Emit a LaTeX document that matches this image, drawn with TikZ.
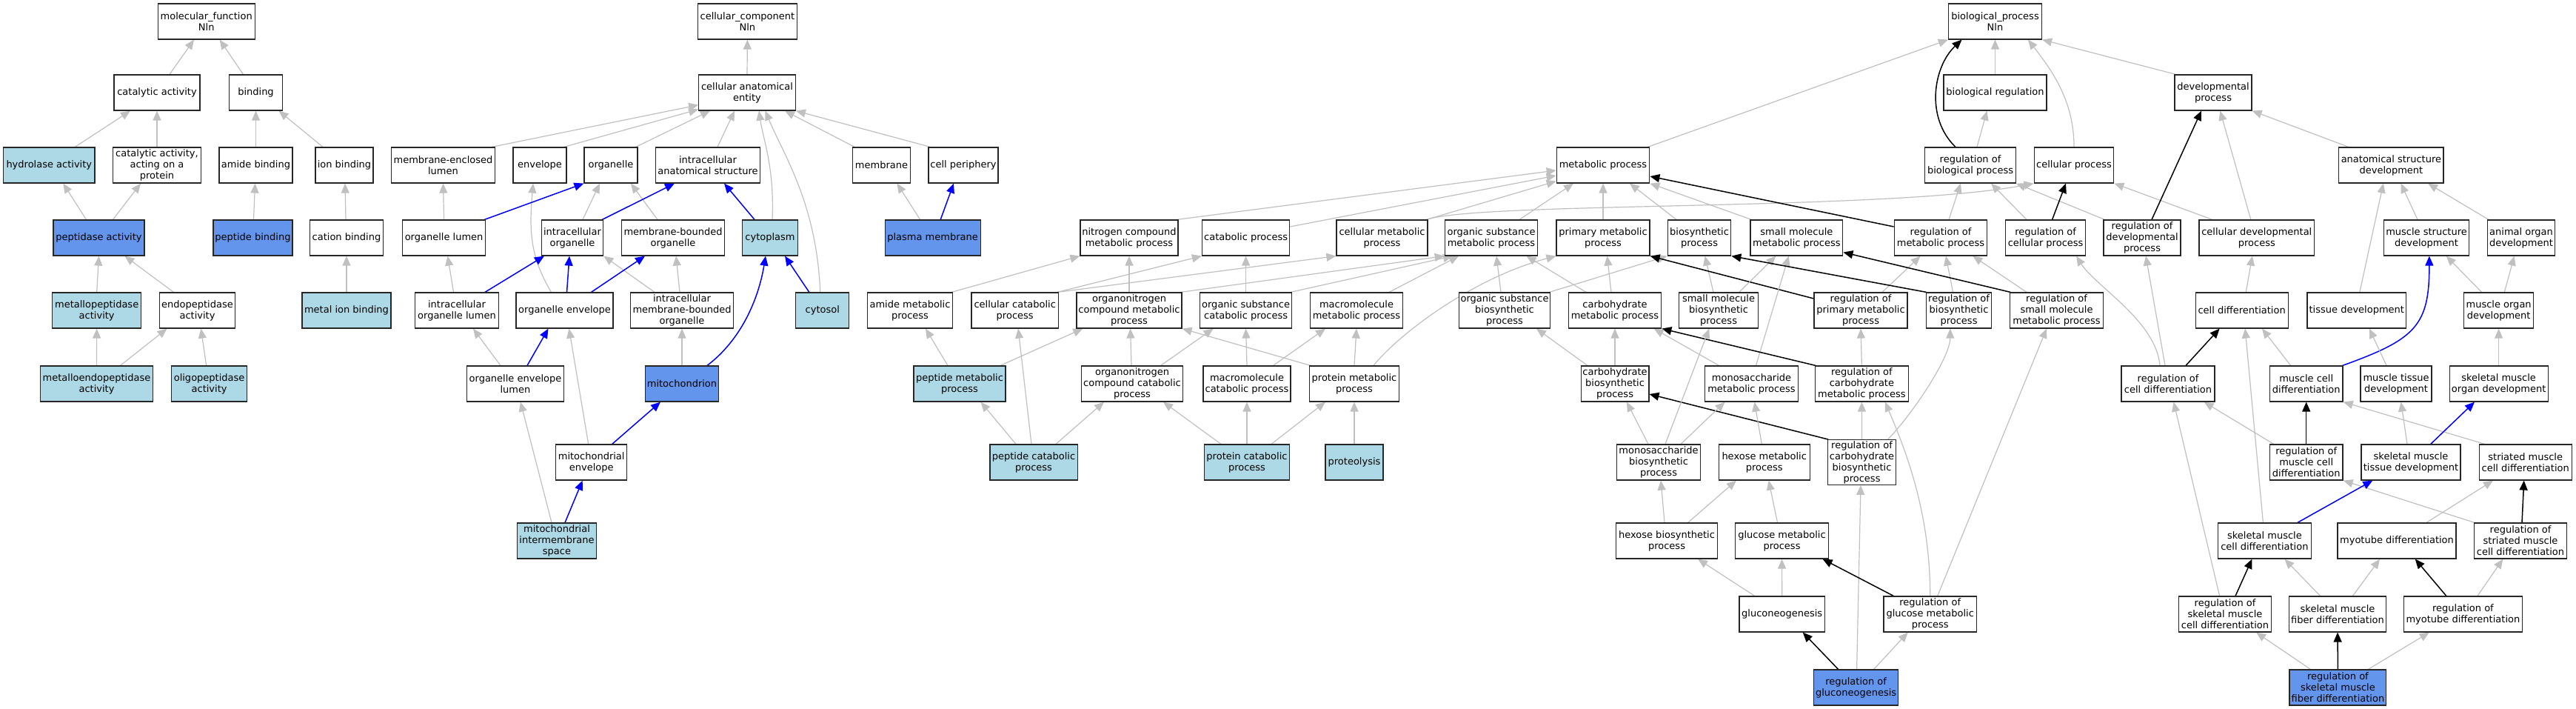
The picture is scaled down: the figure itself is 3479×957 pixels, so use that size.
\documentclass[tikz,border=0pt]{standalone}
\usepackage{fontspec}
\setmainfont{DejaVu Sans}
\usetikzlibrary{arrows.meta}
\definecolor{lb}{HTML}{ADD8E6}
\definecolor{cb}{HTML}{6495ED}
\definecolor{eg}{HTML}{C0C0C0}
\definecolor{eb}{HTML}{0000FF}
\pgfdeclarelayer{bgl}
\pgfdeclarelayer{edges}
\pgfsetlayers{bgl,edges,main}
\newcommand{\dE}[5]{\draw[#1] ([xshift=#3pt]#2.north) -- ([xshift=#5pt]#4.south);}
\tikzset{
  bx/.style={draw=black!85, line width=1.2pt, fill=white, rectangle, align=center,
    inner xsep=1pt, inner ysep=1.5pt, minimum height=48pt,
    font=\fontsize{13}{15}\selectfont},
  lbx/.style={bx, fill=lb},
  cbx/.style={bx, fill=cb},
  ge/.style={draw=eg, line width=1.2pt, -{Triangle[length=13pt,width=11pt,fill=eg]}},
  be/.style={draw=eb, line width=1.5pt, -{Triangle[length=13pt,width=11pt,fill=eb]}},
  ke/.style={draw=black, line width=1.5pt, -{Triangle[length=13pt,width=11pt,fill=black]}}
}
\begin{document}
\begin{tikzpicture}[x=1pt,y=-1pt]
\useasboundingbox (0,0) rectangle (3479,957);
\begin{pgfonlayer}{bgl}
\fill[white] (0,0) rectangle (3479,957);
\end{pgfonlayer}
% ---------- molecular function ----------
\node[bx, minimum width=131pt] (mf) at (278.7,29) {molecular\_function\\Nln};
\node[bx, minimum width=116pt] (cat) at (212,125) {catalytic activity};
\node[bx, minimum width=72pt] (bind) at (345.5,125) {binding};
\node[lbx, minimum width=123.5pt] (hyd) at (66.3,223) {hydrolase activity};
\node[bx, minimum width=118.5pt] (catp) at (212,223) {catalytic activity,\\acting on a\\protein};
\node[bx, minimum width=99pt] (amb) at (345.5,223) {amide binding};
\node[bx, minimum width=78pt] (ionb) at (465,223) {ion binding};
\node[cbx, minimum width=123pt] (pept) at (133.5,321) {peptidase activity};
\node[cbx, minimum width=107pt] (pepb) at (341.5,321) {peptide binding};
\node[bx, minimum width=98.7pt] (catb) at (468,321) {cation binding};
\node[lbx, minimum width=120pt] (metp) at (130.7,419) {metallopeptidase\\activity};
\node[bx, minimum width=102pt] (endo) at (266.5,419) {endopeptidase\\activity};
\node[lbx, minimum width=120pt] (mib) at (468,419) {metal ion binding};
\node[lbx, minimum width=152.4pt] (mep) at (130.5,518) {metalloendopeptidase\\activity};
\node[lbx, minimum width=102.2pt] (olig) at (282.6,518) {oligopeptidase\\activity};
% ---------- cellular component ----------
\node[bx, minimum width=134pt] (cc) at (1009.4,29) {cellular\_component\\Nln};
\node[bx, minimum width=130.5pt] (cae) at (1009,125) {cellular anatomical\\entity};
\node[bx, minimum width=140pt] (mel) at (598.5,223) {membrane-enclosed\\lumen};
\node[bx, minimum width=72pt] (env) at (729,223) {envelope};
\node[bx, minimum width=72pt] (org) at (825,223) {organelle};
\node[bx, minimum width=141.6pt] (ias) at (956,223) {intracellular\\anatomical structure};
\node[bx, minimum width=77.5pt] (mem) at (1190.5,223) {membrane};
\node[bx, minimum width=94pt] (cper) at (1301,223) {cell periphery};
\node[bx, minimum width=112.4pt] (ol) at (599.6,321) {organelle lumen};
\node[bx, minimum width=83.5pt] (io) at (773,321) {intracellular\\organelle};
\node[bx, minimum width=138.5pt] (mbo) at (909,321) {membrane-bounded\\organelle};
\node[lbx, minimum width=74.5pt] (cyto) at (1040,321) {cytoplasm};
\node[cbx, minimum width=129pt] (pm) at (1259.6,321) {plasma membrane};
\node[bx, minimum width=112.4pt] (iol) at (617,419) {intracellular\\organelle lumen};
\node[bx, minimum width=131pt] (oe) at (762.5,419) {organelle envelope};
\node[bx, minimum width=139pt] (imbo) at (921,419) {intracellular\\membrane-bounded\\organelle};
\node[lbx, minimum width=72pt] (cytosol) at (1110.8,419) {cytosol};
\node[bx, minimum width=131pt] (oel) at (696,518) {organelle envelope\\lumen};
\node[cbx, minimum width=99pt] (mito) at (921,518) {mitochondrion};
\node[bx, minimum width=96pt] (menv) at (798.7,624) {mitochondrial\\envelope};
\node[lbx, minimum width=107pt] (mis) at (752,730) {mitochondrial\\intermembrane\\space};
% ---------- biological process ----------
\node[bx, minimum width=126pt] (bp) at (2694.5,29) {biological\_process\\Nln};
\node[bx, minimum width=139pt] (breg) at (2694.5,125) {biological regulation};
\node[bx, minimum width=104pt] (dev) at (2989,125) {developmental\\process};
\node[bx, minimum width=125.6pt] (mp) at (2165,223) {metabolic process};
\node[bx, minimum width=122.5pt] (rbio) at (2661,223) {regulation of\\biological process};
\node[bx, minimum width=107.5pt] (cp) at (2801,223) {cellular process};
\node[bx, minimum width=141.2pt] (asd) at (3229.4,223) {anatomical structure\\development};
\node[bx, minimum width=132pt] (ncmp) at (1525,321) {nitrogen compound\\metabolic process};
\node[bx, minimum width=118.2pt] (catab) at (1682.6,321) {catabolic process};
\node[bx, minimum width=123pt] (cmp) at (1866.5,321) {cellular metabolic\\process};
\node[bx, minimum width=125.5pt] (osmp) at (2014,321) {organic substance\\metabolic process};
\node[bx, minimum width=126pt] (pmp) at (2165,321) {primary metabolic\\process};
\node[bx, minimum width=85.5pt] (bsp) at (2295,321) {biosynthetic\\process};
\node[bx, minimum width=124.8pt] (smmp) at (2426.4,321) {small molecule\\metabolic process};
\node[bx, minimum width=125.6pt] (rmp) at (2621,321) {regulation of\\metabolic process};
\node[bx, minimum width=107.6pt] (rcp) at (2762.6,321) {regulation of\\cellular process};
\node[bx, minimum width=104pt] (rdp) at (2893,321) {regulation of\\developmental\\process};
\node[bx, minimum width=155.5pt] (cdp) at (3047.8,321) {cellular developmental\\process};
\node[bx, minimum width=114.5pt] (msd) at (3277,321) {muscle structure\\development};
\node[bx, minimum width=91pt] (aod) at (3405,321) {animal organ\\development};
\node[bx, minimum width=115.5pt] (amp) at (1229,419) {amide metabolic\\process};
\node[bx, minimum width=117.5pt] (ccp) at (1370.7,419) {cellular catabolic\\process};
\node[bx, minimum width=142pt] (oncmp) at (1525,419) {organonitrogen\\compound metabolic\\process};
\node[bx, minimum width=123.6pt] (oscp) at (1682.6,419) {organic substance\\catabolic process};
\node[bx, minimum width=125.6pt] (macmp) at (1832,419) {macromolecule\\metabolic process};
\node[bx, minimum width=123.6pt] (osbp) at (2032,419) {organic substance\\biosynthetic\\process};
\node[bx, minimum width=125.5pt] (carbmp) at (2181,419) {carbohydrate\\metabolic process};
\node[bx, minimum width=106.6pt] (smbp) at (2321,419) {small molecule\\biosynthetic\\process};
\node[bx, minimum width=126pt] (rpmp) at (2513,419) {regulation of\\primary metabolic\\process};
\node[bx, minimum width=88.7pt] (rbp) at (2645.5,419) {regulation of\\biosynthetic\\process};
\node[bx, minimum width=125.4pt] (rsmmp) at (2777.5,419) {regulation of\\small molecule\\metabolic process};
\node[bx, minimum width=125pt] (celld) at (3027.6,419) {cell differentiation};
\node[bx, minimum width=133.5pt] (tisd) at (3182.8,419) {tissue development};
\node[bx, minimum width=94.2pt] (mod) at (3374.6,419) {muscle organ\\development};
\node[lbx, minimum width=124pt] (pepmp) at (1296,518) {peptide metabolic\\process};
\node[bx, minimum width=136.4pt] (onccp) at (1529,518) {organonitrogen\\compound catabolic\\process};
\node[bx, minimum width=118pt] (maccp) at (1684,518) {macromolecule\\catabolic process};
\node[bx, minimum width=121pt] (protmp) at (1829,518) {protein metabolic\\process};
\node[bx, minimum width=91.8pt] (carbbp) at (2181,518) {carbohydrate\\biosynthetic\\process};
\node[bx, minimum width=125.7pt] (monomp) at (2365.5,518) {monosaccharide\\metabolic process};
\node[bx, minimum width=125.5pt] (rcmp) at (2514.4,518) {regulation of\\carbohydrate\\metabolic process};
\node[bx, minimum width=126pt] (rcd) at (2928,518) {regulation of\\cell differentiation};
\node[bx, minimum width=98.7pt] (mcd) at (3114.7,518) {muscle cell\\differentiation};
\node[bx, minimum width=96pt] (mtd) at (3236,518) {muscle tissue\\development};
\node[bx, minimum width=133pt] (smod) at (3374.6,518) {skeletal muscle\\organ development};
\node[lbx, minimum width=118.2pt] (pepcp) at (1396,624) {peptide catabolic\\process};
\node[lbx, minimum width=114.8pt] (protcp) at (1684,624) {protein catabolic\\process};
\node[lbx, minimum width=78pt] (proteol) at (1829,624) {proteolysis};
\node[bx, minimum width=112.4pt] (monobp) at (2240,624) {monosaccharide\\biosynthetic\\process};
\node[bx, minimum width=123pt] (hexmp) at (2382.7,624) {hexose metabolic\\process};
\node[bx, minimum width=91.5pt] (rcbp) at (2514.5,624) {regulation of\\carbohydrate\\biosynthetic\\process};
\node[bx, minimum width=98.7pt] (rmcd) at (3114.7,624) {regulation of\\muscle cell\\differentiation};
\node[bx, minimum width=134pt] (smtd) at (3256,624) {skeletal muscle\\tissue development};
\node[bx, minimum width=125pt] (stmcd) at (3410.7,624) {striated muscle\\cell differentiation};
\node[bx, minimum width=137pt] (hexbp) at (2251,730) {hexose biosynthetic\\process};
\node[bx, minimum width=125.3pt] (glcmp) at (2406.5,730) {glucose metabolic\\process};
\node[bx, minimum width=125.4pt] (skmcd) at (3058.4,730) {skeletal muscle\\cell differentiation};
\node[bx, minimum width=160pt] (myod) at (3237,730) {myotube differentiation};
\node[bx, minimum width=125pt] (rstmcd) at (3404,730) {regulation of\\striated muscle\\cell differentiation};
\node[bx, minimum width=115.3pt] (gng) at (2406.7,829) {gluconeogenesis};
\node[bx, minimum width=125.4pt] (rgmp) at (2606.7,829) {regulation of\\glucose metabolic\\process};
\node[bx, minimum width=125.5pt] (rskmcd) at (3005,829) {regulation of\\skeletal muscle\\cell differentiation};
\node[bx, minimum width=130.3pt] (smfd) at (3157,829) {skeletal muscle\\fiber differentiation};
\node[bx, minimum width=160pt] (rmyod) at (3326.4,829) {regulation of\\myotube differentiation};
\node[cbx, minimum width=114.4pt] (rgng) at (2506.6,928) {regulation of\\gluconeogenesis};
\node[cbx, minimum width=130.7pt] (rsmfd) at (3157.4,928) {regulation of\\skeletal muscle\\fiber differentiation};

\begin{pgfonlayer}{edges}
% MF
\dE{ge}{cat}{17}{mf}{-16.7}
\dE{ge}{bind}{-17}{mf}{18}
\dE{ge}{hyd}{35}{cat}{-36}
\dE{ge}{catp}{0}{cat}{0}
\dE{ge}{amb}{0}{bind}{0}
\dE{ge}{ionb}{-29}{bind}{31}
\dE{ge}{pept}{-17}{hyd}{19}
\dE{ge}{pept}{19}{catp}{-22}
\dE{ge}{pepb}{1}{amb}{-1}
\dE{ge}{catb}{-1}{ionb}{1}
\dE{ge}{metp}{0}{pept}{0}
\dE{ge}{endo}{-32}{pept}{35}
\dE{ge}{mib}{0}{catb}{0}
\dE{ge}{mep}{0}{metp}{0}
\dE{ge}{mep}{32}{endo}{-41}
\dE{ge}{olig}{-4}{endo}{5}
% CC gray
\dE{ge}{cae}{0}{cc}{0}
\draw[ge] ([xshift=-5pt]mel.north east) -- ([yshift=-16.7pt]cae.west);
\draw[ge] ([xshift=-4pt]env.north east) -- ([yshift=2pt]cae.south west);
\draw[ge] ([xshift=-3pt]org.north east) -- ([xshift=-50pt]cae.south);
\dE{ge}{ias}{13}{cae}{-17}
\draw[ge] ([xshift=3pt]cyto.north) .. controls +(3,-70) and +(6,40) .. ([xshift=16pt]cae.south);
\draw[ge] ([xshift=-3pt]cytosol.north) .. controls +(-5,-120) and +(25,60) .. ([xshift=24.5pt]cae.south);
\draw[ge] ([xshift=3pt]mem.north west) -- ([xshift=51pt]cae.south);
\draw[ge] ([xshift=3pt]cper.north west) -- (cae.south east);
\dE{ge}{ol}{0}{mel}{0}
\dE{ge}{io}{14}{org}{-15}
\dE{ge}{mbo}{-21}{org}{27}
\dE{ge}{iol}{-4.5}{ol}{5}
\draw[ge] ([xshift=-18pt]oe.north) .. controls +(-30,-50) and +(-5,60) .. ([xshift=-9pt]env.south);
\draw[ge] ([xshift=-37pt]imbo.north) -- (io.south east);
\dE{ge}{imbo}{-3}{mbo}{4}
\dE{ge}{oel}{-20}{iol}{22}
\dE{ge}{mito}{0}{imbo}{0}
\dE{ge}{menv}{-4}{oe}{6}
\dE{ge}{mis}{-7}{oel}{7}
\dE{ge}{pm}{-17}{mem}{21}
% CC blue
\draw[be] ([xshift=-2pt]ol.north east) -- (org.south west);
\draw[be] ([xshift=-2pt]io.north east) -- ([xshift=-45pt]ias.south);
\dE{be}{cyto}{-21}{ias}{22}
\dE{be}{iol}{38}{io}{-38}
\dE{be}{oe}{3}{io}{-4}
\dE{be}{oe}{36}{mbo}{-38}
\dE{be}{cytosol}{-18}{cyto}{20}
\draw[be] ([xshift=34pt]mito.north) .. controls +(45,-34) and +(-10,60) .. ([xshift=-6pt]cyto.south);
\dE{be}{oel}{16}{oe}{-22}
\dE{be}{menv}{28}{mito}{-29}
\dE{be}{mis}{11}{menv}{-12}
\dE{be}{pm}{10.6}{cper}{-13}
% BP upper
\draw[ge] ([xshift=-3pt]mp.north east) -- (bp.south west);
\dE{ge}{breg}{0}{bp}{0}
\draw[ke] ([xshift=-20pt]rbio.north) .. controls +(-40.7,-39) and +(-39,37) .. ([xshift=-45pt]bp.south);
\draw[ge] (cp.north) .. controls +(0,-60) and +(35,45) .. ([xshift=44.5pt]bp.south);
\draw[ge] ([xshift=2pt]dev.north west) -- (bp.south east);
\dE{ge}{rbio}{9}{breg}{-11}
\draw[ge] ([xshift=-2pt]cmp.north east) .. controls (2000,272) and (2550,285) .. (cp.south west);
\draw[ge] ([xshift=-2pt]ncmp.north east) -- ([yshift=-7pt]mp.west);
\draw[ge] ([yshift=15pt]catab.east) -- ([yshift=-14pt]mp.west);
\draw[ge] ([xshift=-2pt]cmp.north east) -- ([yshift=3pt]mp.south west);
\dE{ge}{osmp}{38}{mp}{-40}
\dE{ge}{pmp}{0}{mp}{0}
\dE{ge}{bsp}{-31}{mp}{36}
\draw[ge] ([xshift=2pt]smmp.north west) -- (mp.south east);
\draw[ke] ([yshift=15pt]rmp.west) -- ([yshift=-15pt]mp.east);
\dE{ge}{rmp}{11}{rbio}{-13}
\dE{ge}{rcp}{-25.6}{rbio}{28}
\draw[ge] ([xshift=2pt]rdp.north west) -- (rbio.south east);
\dE{ke}{rcp}{9}{cp}{-11}
\draw[ge] ([xshift=-60pt]cdp.north) -- (cp.south east);
\dE{ke}{rdp}{13}{dev}{-16}
\dE{ge}{cdp}{-8}{dev}{9.4}
\draw[ge] ([xshift=-57.6pt]asd.north) -- (dev.south east);
\dE{ge}{tisd}{4}{asd}{-10.6}
\dE{ge}{msd}{-12}{asd}{13}
\draw[ge] ([xshift=2pt]aod.north west) -- ([xshift=49.6pt]asd.south);
\dE{ge}{celld}{5.6}{cdp}{-6}
\dE{ge}{mod}{-23}{msd}{26.8}
\dE{ge}{mod}{7.7}{aod}{-9.4}
\draw[be] ([xshift=-1pt]mcd.north east) .. controls (3262,458) and (3281,440) .. ([xshift=3.8pt]msd.south);
\dE{ke}{rcd}{24}{celld}{-30}
\dE{ge}{skmcd}{-2}{celld}{4.5}
\dE{ge}{mcd}{-21}{celld}{27.4}
\dE{ge}{mtd}{-13}{tisd}{17}
\dE{ge}{smod}{0}{mod}{0}
\dE{ge}{rcd}{-4}{rdp}{5}
\draw[ge] ([xshift=-11pt]rcd.north) .. controls +(-5,-60) and +(25,40) .. ([xshift=41.5pt]rcp.south);
\dE{ge}{rskmcd}{-7.4}{rcd}{7.6}
\dE{ge}{rmcd}{-44}{rcd}{48.6}
\dE{ke}{rmcd}{0}{mcd}{0}
\draw[ge] ([xshift=-55pt]stmcd.north) -- (mcd.south east);
\dE{ge}{smtd}{-5}{mtd}{6.6}
\dE{be}{smtd}{26.7}{smod}{-32.6}
\draw[ge] ([xshift=1pt]rstmcd.north west) -- (rmcd.south east);
\dE{be}{skmcd}{44.5}{smtd}{-51.7}
\dE{ge}{myod}{40}{stmcd}{-43.7}
\dE{ke}{rstmcd}{2}{stmcd}{-2}
\dE{ke}{rskmcd}{14}{skmcd}{-17}
\dE{ge}{smfd}{-23.5}{skmcd}{27}
\dE{ge}{smfd}{20.5}{myod}{-23}
\dE{ke}{rmyod}{-22.6}{myod}{24.7}
\dE{ge}{rmyod}{19.5}{rstmcd}{-23.7}
\dE{ge}{rsmfd}{-37}{rskmcd}{42}
\dE{ke}{rsmfd}{0}{smfd}{0}
\dE{ge}{rsmfd}{41}{rmyod}{-45.6}
% metabolic block
\draw[ge] ([xshift=-2pt]amp.north east) -- (ncmp.south west);
\draw[ge] ([xshift=-2pt]ccp.north east) -- (catab.south west);
\draw[ge] ([xshift=-2pt]ccp.north east) -- (cmp.south west);
\dE{ge}{oncmp}{0}{ncmp}{0}
\draw[ge] ([xshift=-2pt]oncmp.north east) -- (osmp.south west);
\dE{ge}{oscp}{0}{catab}{0}
\draw[ge] ([xshift=-2pt]oscp.north east) -- ([xshift=-52pt]osmp.south);
\dE{ge}{macmp}{44}{osmp}{-44}
\dE{ge}{osbp}{-5}{osmp}{7}
\draw[ge] ([xshift=-2pt]osbp.north east) -- (bsp.south west);
\dE{ge}{carbmp}{-39}{osmp}{47.5}
\dE{ge}{carbmp}{-5}{pmp}{5.5}
\dE{ge}{smbp}{-7}{bsp}{7.6}
\draw[ke] ([yshift=16pt]rpmp.west) -- (pmp.south east);
\dE{ge}{smbp}{27.7}{smmp}{-28}
\dE{ge}{monomp}{6}{smmp}{-10.7}
\dE{ge}{rpmp}{29}{rmp}{-27.4}
\dE{ge}{rbp}{-8}{rmp}{7}
\dE{ge}{rsmmp}{-40.5}{rmp}{43.4}
\draw[ke] ([xshift=1pt]rbp.north west) -- (bsp.south east);
\draw[ke] ([xshift=1pt]rsmmp.north west) -- ([yshift=5pt]smmp.south east);
\dE{ge}{rcmp}{0}{rpmp}{0}
\draw[ge] ([xshift=35pt]rcbp.north) .. controls +(30,-30) and +(0,40) .. ([xshift=-11.7pt]rbp.south);
\dE{ge}{rgmp}{10}{rsmmp}{-13.5}
\draw[ke] ([xshift=1pt]rcmp.north west) -- (carbmp.south east);
\dE{ge}{carbbp}{-37}{osbp}{43}
\dE{ge}{carbbp}{0}{carbmp}{0}
\dE{ge}{monomp}{-44}{carbmp}{52.7}
\draw[ke] ([xshift=1pt]rcbp.north west) -- ([yshift=-14pt]carbbp.east);
\dE{ge}{monobp}{-14}{carbbp}{16}
\dE{ge}{monobp}{9}{smbp}{-12.7}
\dE{ge}{monobp}{30}{monomp}{-36}
\dE{ge}{hexmp}{-3.4}{monomp}{4}
\dE{ge}{rcbp}{0}{rcmp}{0}
\draw[ge] (rgmp.north) .. controls +(0,-110) and +(30,70) .. ([xshift=31.4pt]rcmp.south);
\dE{ge}{hexbp}{-3}{monobp}{3}
\dE{ge}{hexbp}{28.6}{hexmp}{-37.8}
\dE{ge}{glcmp}{-6}{hexmp}{6}
\dE{ge}{rgng}{1}{rcbp}{-1.5}
\dE{ge}{gng}{0}{glcmp}{0}
\dE{ke}{rgmp}{-49.4}{glcmp}{55}
\dE{ge}{gng}{-37}{hexbp}{42}
\dE{ke}{rgng}{-24}{gng}{28}
\dE{ge}{rgng}{24}{rgmp}{-30}
\dE{ge}{pepmp}{-16}{amp}{21}
\dE{ge}{pepmp}{55}{oncmp}{-62.7}
\dE{ge}{onccp}{-1}{oncmp}{1.6}
\dE{ge}{onccp}{38.6}{oscp}{-44}
\draw[ge] ([xshift=2pt]protmp.north west) -- (oncmp.south east);
\dE{ge}{maccp}{0}{oscp}{0}
\dE{ge}{maccp}{35.5}{macmp}{-42}
\dE{ge}{protmp}{0}{macmp}{0}
\draw[ge] ([xshift=26pt]protmp.north) .. controls (1890,450) and (1990,375) .. (pmp.south west);
\dE{ge}{pepcp}{-24}{pepmp}{28.6}
\dE{ge}{pepcp}{-3}{ccp}{4.4}
\dE{ge}{pepcp}{30}{onccp}{-38}
\dE{ge}{protcp}{-35}{onccp}{42}
\dE{ge}{protcp}{0}{maccp}{0}
\dE{ge}{protcp}{33}{protmp}{-39}
\dE{ge}{proteol}{0}{protmp}{0}
\end{pgfonlayer}
\end{tikzpicture}
\end{document}
